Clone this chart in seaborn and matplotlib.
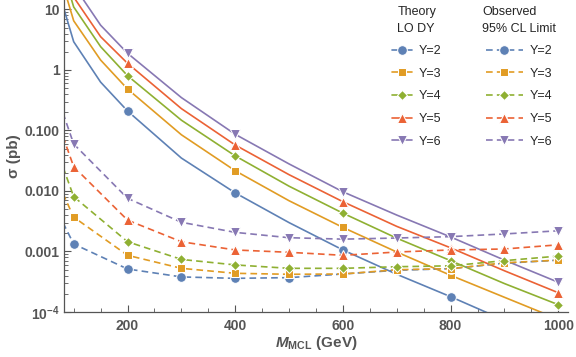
import matplotlib
matplotlib.use("Agg")
import matplotlib.pyplot as plt
import seaborn as sns
from matplotlib.lines import Line2D

# theory (LO Drell-Yan) cross sections, pb
theory_mass = [50, 100, 150, 200, 300, 400, 500, 600, 700, 800, 900, 1000]
theory_y2 = [92, 2.93, 0.63, 0.21, 0.035, 0.0093, 0.0030, 0.00106, 4.2e-4, 1.79e-4, 7.3e-5, 3.0e-5]
theory_y3 = [200, 6.5, 1.46, 0.485, 0.085, 0.0216, 0.0069, 0.0025, 9.8e-4, 4.04e-4, 1.75e-4, 7.6e-5]
theory_y4 = [330, 11, 2.43, 0.805, 0.148, 0.038, 0.012, 0.0043, 0.00166, 7.05e-4, 2.95e-4, 1.32e-4]
theory_y5 = [500, 16, 3.55, 1.29, 0.23, 0.0575, 0.0186, 0.00665, 0.0026, 0.00115, 4.8e-4, 2.08e-4]
theory_y6 = [750, 25, 5.5, 1.89, 0.35, 0.0865, 0.028, 0.0097, 0.004, 0.00174, 7.2e-4, 3.1e-4]

# observed 95% CL limits, pb
obs_mass = [80, 100, 200, 300, 400, 500, 600, 700, 800, 900, 1000]
obs_y2 = [0.003, 0.00133, 5.14e-4, 3.8e-4, 3.6e-4, 3.7e-4, 4.25e-4, 4.9e-4, 5.2e-4, 6.4e-4, 7.2e-4]
obs_y3 = [0.0091, 0.0037, 8.65e-4, 5.27e-4, 4.36e-4, 4.2e-4, 4.25e-4, 5.0e-4, 5.2e-4, 6.5e-4, 7.2e-4]
obs_y4 = [0.025, 0.00806, 0.00145, 7.4e-4, 6.0e-4, 5.27e-4, 5.27e-4, 5.6e-4, 5.8e-4, 7.06e-4, 8.4e-4]
obs_y5 = [0.08, 0.0252, 0.0033, 0.00145, 0.00106, 9.7e-4, 8.65e-4, 9.8e-4, 0.00106, 0.0011, 0.00129]
obs_y6 = [0.196, 0.0598, 0.00757, 0.00304, 0.00207, 0.00169, 0.0016, 0.00167, 0.00176, 0.00195, 0.0022]

labels = ['Y=2', 'Y=3', 'Y=4', 'Y=5', 'Y=6']
theory = [theory_y2, theory_y3, theory_y4, theory_y5, theory_y6]
observed = [obs_y2, obs_y3, obs_y4, obs_y5, obs_y6]

colors = ['#5E81B5', '#E19C24', '#8FB032', '#EB6235', '#8778B3']
markers = ['o', 's', 'D', '^', 'v']
msizes = [7, 5.5, 5, 6.5, 6.5]

sns.set_style('ticks')
plt.rcParams['font.family'] = ['Liberation Sans', 'DejaVu Sans']
plt.rcParams.update({
    'mathtext.fontset': 'custom',
    'mathtext.rm': 'Liberation Sans',
    'mathtext.bf': 'Liberation Sans:bold',
    'mathtext.it': 'Liberation Sans:italic',
    'mathtext.bfit': 'Liberation Sans:italic:bold',
})
gray = '#555555'

fig = plt.figure(figsize=(5.76, 3.57), dpi=100)
ax = fig.add_axes([64/576, 1-312/357, 504/576, 312/357])

dash = (0, (4, 2.5))
for vals, c, m, ms in zip(theory, colors, markers, msizes):
    sns.lineplot(x=theory_mass, y=vals, ax=ax, color=c, marker=m, markersize=ms,
                 markevery=[3, 5, 7, 9, 11], lw=1.2, linestyle='-',
                 estimator=None, sort=False)
for vals, c, m, ms in zip(observed, colors, markers, msizes):
    sns.lineplot(x=obs_mass, y=vals, ax=ax, color=c, marker=m, markersize=ms,
                 markevery=list(range(1, len(obs_mass))), lw=1.2, linestyle=dash,
                 estimator=None, sort=False)

ax.set_yscale('log')
ax.set_xlim(82, 1018)
ax.set_ylim(1e-4, 14.35)

ax.set_xticks([200, 400, 600, 800, 1000])
ax.set_xticks(range(100, 1001, 50), minor=True)
ax.set_yticks([1e-4, 1e-3, 1e-2, 1e-1, 1, 10])
ax.set_yticklabels([r'$\mathbf{10^{-4}}$', '0.001', '0.010', '0.100', '1', '10'])

ax.tick_params(which='both', direction='in', colors=gray, labelsize=10)
ax.tick_params(which='major', length=5, width=0.8)
ax.tick_params(which='minor', length=3, width=0.6)
ax.tick_params(axis='x', pad=5)
ax.tick_params(axis='y', pad=3)
for lab in ax.get_xticklabels() + ax.get_yticklabels():
    lab.set_fontweight('bold')

for s in ['top', 'right']:
    ax.spines[s].set_visible(False)
for s in ['left', 'bottom']:
    ax.spines[s].set_color(gray)
    ax.spines[s].set_linewidth(0.9)

ax.set_xlabel(r'$\mathbfit{M}_{\mathbf{MCL}}$ (GeV)', fontsize=11, fontweight='bold', color=gray)
ax.set_ylabel('σ (pb)', fontsize=11, fontweight='bold', color=gray)
ax.xaxis.set_label_coords(0.5, -0.07)
ax.yaxis.set_label_coords(-0.085, 0.5)

th_handles = [Line2D([], [], color=c, marker=m, markersize=ms, lw=1.2, linestyle='-',
                     markeredgecolor='w', markeredgewidth=0.75)
              for c, m, ms in zip(colors, markers, msizes)]
ob_handles = [Line2D([], [], color=c, marker=m, markersize=ms, lw=1.2, linestyle=dash,
                     markeredgecolor='w', markeredgewidth=0.75)
              for c, m, ms in zip(colors, markers, msizes)]

common = dict(loc='upper left', bbox_transform=fig.transFigure, frameon=False,
              fontsize=9, title_fontsize=9, handletextpad=0.55, labelspacing=0.85,
              borderpad=0, borderaxespad=0, numpoints=1)
leg1 = ax.legend(handles=th_handles, labels=labels, title='Theory\nLO DY',
                 bbox_to_anchor=(392/576, 1-6/357), handlelength=1.6, **common)
leg1.get_title().set_linespacing(1.5)
ax.add_artist(leg1)
leg2 = ax.legend(handles=ob_handles, labels=labels, title='Observed\n95% CL Limit',
                 bbox_to_anchor=(482/576, 1-6/357), handlelength=3.0, **common)
leg2.get_title().set_linespacing(1.5)

fig.savefig('out.png', dpi=100)
